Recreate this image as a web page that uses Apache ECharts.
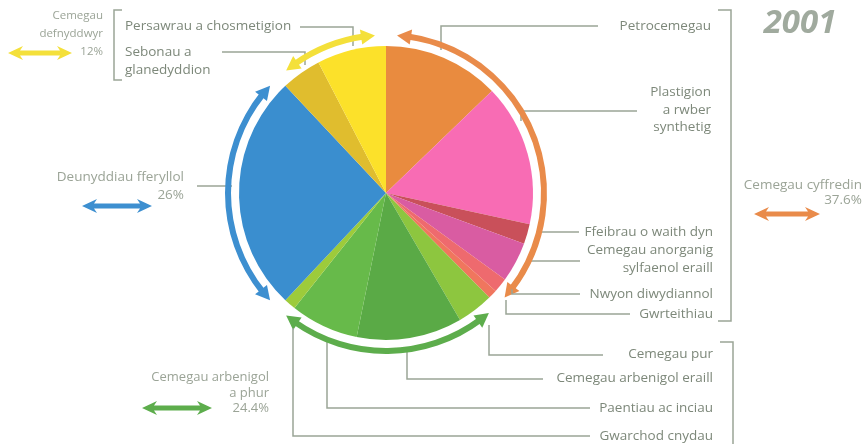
<!DOCTYPE html>
<html>
<head>
<meta charset="utf-8">
<title>2001</title>
<script src="https://cdn.jsdelivr.net/npm/echarts@6/dist/echarts.min.js"></script>
<style>
html, body { margin: 0; padding: 0; background: #fff; }
#chart { width: 866px; height: 444px; }
</style>
</head>
<body>
<div id="chart"></div>
<script>
// sectorau, clocwedd o'r brig
var names = ['Petrocemegau', 'Plastigion a rwber synthetig', 'Ffeibrau o waith dyn',
  'Cemegau anorganig sylfaenol eraill', 'Nwyon diwydiannol', 'Gwrteithiau',
  'Cemegau pur', 'Cemegau arbenigol eraill', 'Paentiau ac inciau', 'Gwarchod cnydau',
  'Deunyddiau fferyllol', 'Sebonau a glanedyddion', 'Persawrau a chosmetigion'];
var labels = ['Petrocemegau', 'Plastigion\na rwber\nsynthetig', 'Ffeibrau o waith dyn',
  'Cemegau anorganig\nsylfaenol eraill', 'Nwyon diwydiannol', 'Gwrteithiau',
  'Cemegau pur', 'Cemegau arbenigol eraill', 'Paentiau ac inciau', 'Gwarchod cnydau',
  'Deunyddiau fferyllol', 'Sebonau a\nglanedyddion', 'Persawrau a chosmetigion'];
var values = [12.8, 15.6, 2.2, 4.4, 1.6, 1.0, 4.0, 11.6, 7.5, 1.3, 26, 4.4, 7.6];
var colors = ['#e98b3f', '#f86cb4', '#c9505a', '#d95ca2', '#ee6a6e', '#f0765e',
  '#8dc63f', '#5aaa46', '#67ba4a', '#9dcb3b', '#3a8ecf', '#e0bd2e', '#fce12a'];

// grwpiau
var groupNames = ['Cemegau cyffredin', 'Cemegau arbenigol\na phur', 'Deunyddiau fferyllol', 'Cemegau\ndefnyddwyr'];
var groupValues = [37.6, 24.4, 26, 12];
var groupColors = ['#e98b4a', '#5dad4c', '#3d8fd0', '#f4e03a'];

var CX = 386, CY = 193, R = 158;
var lineColor = '#9ba596';

// lle mae pob label a'i linell
var labelPos = [
  [711, 26, 'right', [[441, 50], [441, 26], [598, 26]]],
  [711, 110, 'right', [[521, 121], [521, 111], [637, 111]]],
  [713, 232, 'right', [[537, 232], [537, 232], [579, 232]]],
  [713, 259, 'right', [[527, 261], [527, 261], [580, 261]]],
  [713, 294, 'right', [[512, 284], [512, 294], [580, 294]]],
  [713, 314, 'right', [[506, 300], [506, 314], [630, 314]]],
  [713, 354, 'right', [[489, 325], [489, 355], [603, 355]]],
  [713, 378, 'right', [[407, 350], [407, 379], [543, 379]]],
  [713, 408, 'right', [[327, 337], [327, 408], [590, 408]]],
  [713, 436, 'right', [[293, 328], [293, 436], [590, 436]]],
  [184, 186, 'right', [[232, 186], [232, 186], [197, 186]]],
  [125, 61, 'left', [[305, 65], [305, 52], [222, 52]]],
  [125, 26, 'left', [[353, 46], [353, 27], [300, 27]]]
];

function pt(deg, r) {
  var a = deg * Math.PI / 180;
  return [CX + r * Math.sin(a), CY - r * Math.cos(a)];
}

function arrowHead(tipDeg, dir, color) {
  var headDeg = 14 / R * 180 / Math.PI;
  var baseDeg = tipDeg - dir * headDeg;
  return {
    type: 'polygon',
    shape: { points: [pt(tipDeg, R), pt(baseDeg, R + 7.5), pt(baseDeg, R - 7.5)] },
    style: { fill: color }
  };
}

function dblArrow(cx, cy, len, color) {
  var h = 15, hw = 7, sw = 2.5, x0 = cx - len / 2, x1 = cx + len / 2;
  return {
    type: 'polygon',
    shape: { points: [[x0, cy], [x0 + h, cy - hw], [x0 + h - 3, cy - sw], [x1 - h + 3, cy - sw], [x1 - h, cy - hw],
      [x1, cy], [x1 - h, cy + hw], [x1 - h + 3, cy + sw], [x0 + h - 3, cy + sw], [x0 + h, cy + hw]] },
    style: { fill: color }
  };
}

var graphics = [];
// pennau saeth ar y cylch allanol
var total = groupValues.reduce(function (a, b) { return a + b; }, 0);
var acc = 0;
groupValues.forEach(function (v, i) {
  var s = acc / total * 360, e = (acc + v) / total * 360;
  graphics.push(arrowHead(s + 4, -1, groupColors[i]));
  graphics.push(arrowHead(e - 4, 1, groupColors[i]));
  acc += v;
});

// cromfachau
graphics.push({ type: 'polyline', shape: { points: [[122, 10], [114, 10], [114, 80], [122, 80]] }, style: { stroke: lineColor, lineWidth: 1.5, fill: null } });
graphics.push({ type: 'polyline', shape: { points: [[718, 10], [731, 10], [731, 321], [718, 321]] }, style: { stroke: lineColor, lineWidth: 1.5, fill: null } });
graphics.push({ type: 'polyline', shape: { points: [[720, 342], [733, 342], [733, 444]] }, style: { stroke: lineColor, lineWidth: 1.5, fill: null } });

// testun y grwpiau
var groupFont = '13.5px "Open Sans", sans-serif';
var groupText = '#9ba497';
graphics.push({ type: 'text', x: 862, y: 193, style: { text: groupNames[0] + '\n' + groupValues[0] + '%', font: groupFont, fill: groupText, align: 'right', verticalAlign: 'middle', lineHeight: 15 } });
graphics.push({ type: 'text', x: 269, y: 393, style: { text: groupNames[1] + '\n' + groupValues[1] + '%', font: '13px "Open Sans", sans-serif', fill: groupText, align: 'right', verticalAlign: 'middle', lineHeight: 15.5 } });
graphics.push({ type: 'text', x: 103, y: 34, style: { text: groupNames[3] + '\n' + groupValues[3] + '%', font: '11.5px "Open Sans", sans-serif', fill: groupText, align: 'right', verticalAlign: 'middle', lineHeight: 18 } });
graphics.push(dblArrow(787, 214, 66, groupColors[0]));
graphics.push(dblArrow(177, 408, 70, groupColors[1]));
graphics.push(dblArrow(117, 206, 70, groupColors[2]));
graphics.push(dblArrow(40, 53, 64, groupColors[3]));

graphics.push({ type: 'text', x: 800, y: 24, style: { text: '2001', font: 'italic bold 33px "Open Sans", sans-serif', fill: '#a0aa9e', align: 'center', verticalAlign: 'middle' } });

var pieData = values.map(function (v, i) {
  var d = { name: names[i], value: v, itemStyle: { color: colors[i] } };
  if (i === 10) {
    d.label = { formatter: groupNames[2] + '\n' + groupValues[2] + '%', color: groupText, align: 'right' };
  }
  return d;
});

var ringData = groupValues.map(function (v, i) {
  return { name: groupNames[i], value: v, itemStyle: { color: groupColors[i] } };
});

var option = {
  animation: false,
  backgroundColor: '#fff',
  graphic: graphics,
  series: [
    {
      type: 'pie',
      center: [CX, CY],
      radius: [0, 147],
      startAngle: 90,
      data: pieData,
      itemStyle: { borderWidth: 0 },
      label: {
        show: true,
        position: 'outside',
        formatter: function (p) { return labels[p.dataIndex]; },
        fontFamily: 'Open Sans',
        fontSize: 13.5,
        color: '#7d887a',
        lineHeight: 17.5
      },
      labelLine: {
        show: true,
        length: 10,
        length2: 10,
        lineStyle: { color: lineColor, width: 1.5 }
      },
      labelLayout: function (p) {
        var l = labelPos[p.dataIndex];
        return { x: l[0], y: l[1], align: l[2], verticalAlign: 'middle', labelLinePoints: l[3] };
      }
    },
    {
      type: 'pie',
      silent: true,
      center: [CX, CY],
      radius: [R - 3, R + 3],
      startAngle: 90,
      padAngle: 16,
      data: ringData,
      label: { show: false },
      labelLine: { show: false },
      itemStyle: { borderWidth: 0 }
    }
  ]
};

var myChart = echarts.init(document.getElementById('chart'));
myChart.setOption(option);
</script>
</body>
</html>
